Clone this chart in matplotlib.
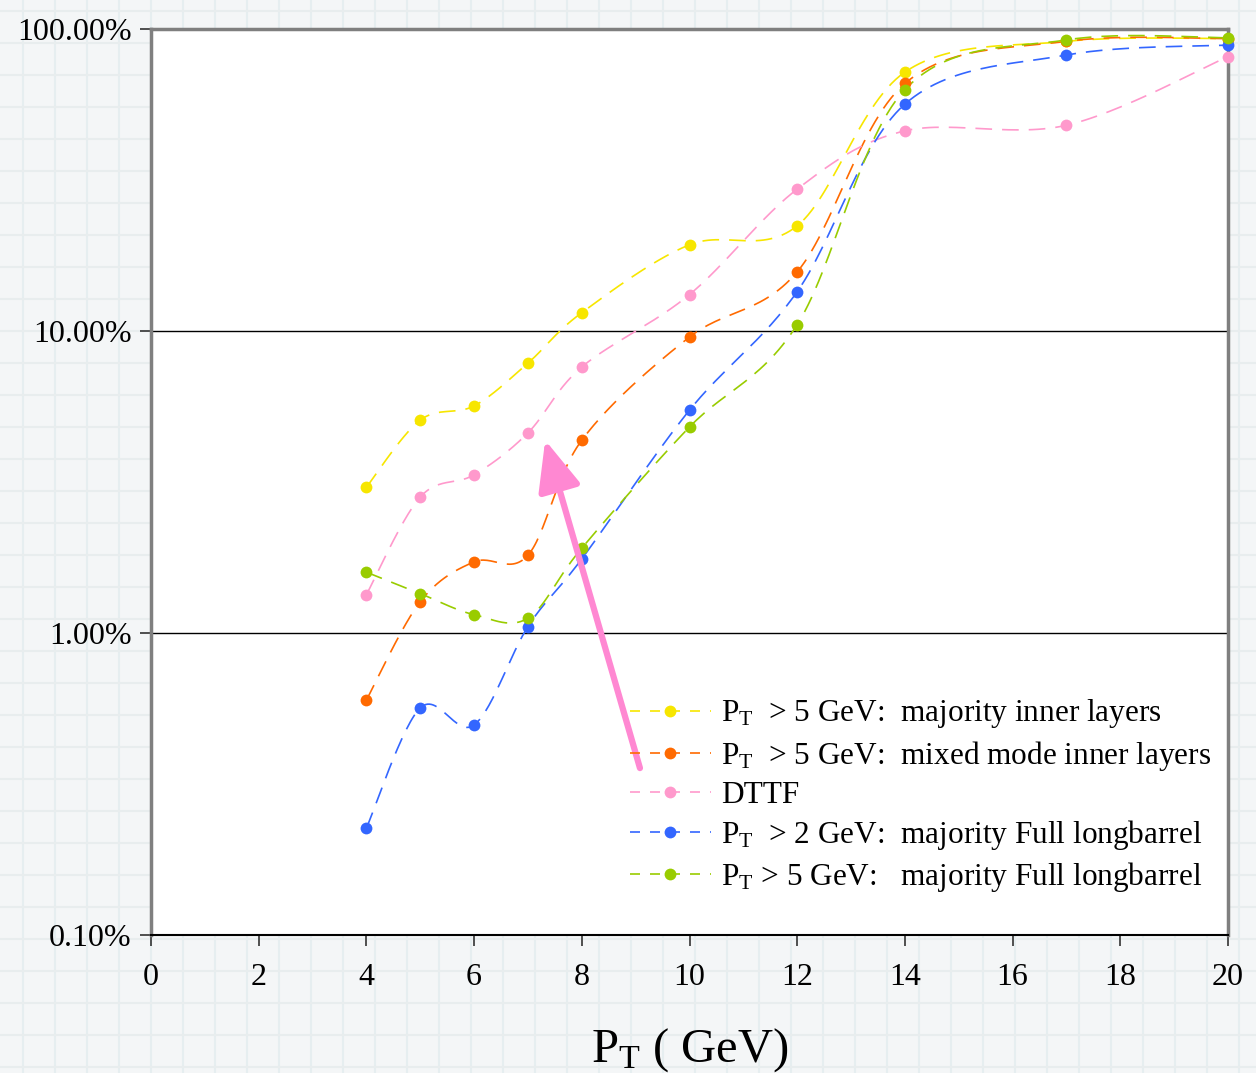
import numpy as np
import matplotlib
matplotlib.use("Agg")
import matplotlib.pyplot as plt
from matplotlib.ticker import FixedLocator, NullLocator

plt.rcParams["font.family"] = ["Liberation Serif", "DejaVu Serif"]
plt.rcParams["mathtext.fontset"] = "custom"
plt.rcParams["mathtext.rm"] = "Liberation Serif"
plt.rcParams["mathtext.it"] = "Liberation Serif:italic"

# ---------------------------------------------------------------------------
# Data (efficiency in %)
# ---------------------------------------------------------------------------
pt = [4, 5, 6, 7, 8, 10, 12, 14, 17, 20]

maj_inner  = [3.04, 5.07, 5.65, 7.83, 11.5, 19.3, 22.3, 72.0, 91.0, 93.0]
mixed      = [0.60, 1.27, 1.72, 1.81, 4.35, 9.55, 15.7, 66.0, 91.0, 93.0]
dttf       = [1.34, 2.82, 3.34, 4.60, 7.60, 13.2, 29.5, 46.0, 48.0, 81.0]
full_pt2   = [0.226, 0.565, 0.496, 1.05, 1.76, 5.47, 13.5, 56.4, 82.0, 88.5]
full_pt5   = [1.59, 1.35, 1.15, 1.12, 1.91, 4.81, 10.5, 63.0, 92.0, 93.5]

labels = [
    r"P$_{\mathrm{T}}$  > 5 GeV:  majority inner layers",
    r"P$_{\mathrm{T}}$  > 5 GeV:  mixed mode inner layers",
    "DTTF",
    r"P$_{\mathrm{T}}$  > 2 GeV:  majority Full longbarrel",
    r"P$_{\mathrm{T}}$ > 5 GeV:   majority Full longbarrel",
]
series = [maj_inner, mixed, dttf, full_pt2, full_pt5]
colors = ["#f7e600", "#ff6a00", "#ff99cc", "#3366ff", "#99cc00"]

ytick_vals = [0.1, 1, 10, 100]
ytick_labels = ["0.10%", "1.00%", "10.00%", "100.00%"]
xtick_vals = list(range(0, 21, 2))


def smooth(xs, ys, n=30):
    """Catmull-Rom spline through the points, in (x, log10 y) space."""
    p = np.column_stack([np.asarray(xs, float), np.log10(ys)])
    out = []
    for i in range(len(p) - 1):
        p0 = p[i - 1] if i > 0 else p[i]
        p3 = p[i + 2] if i + 2 < len(p) else p[i + 1]
        p1, p2 = p[i], p[i + 1]
        m1 = (p2 - p0) / 2.0
        m2 = (p3 - p1) / 2.0
        t = np.linspace(0, 1, n)[:, None]
        h00 = 2 * t**3 - 3 * t**2 + 1
        h10 = t**3 - 2 * t**2 + t
        h01 = -2 * t**3 + 3 * t**2
        h11 = t**3 - t**2
        out.append(h00 * p1 + h10 * m1 + h01 * p2 + h11 * m2)
    c = np.vstack(out)
    return c[:, 0], 10 ** c[:, 1]


W, H = 1256, 1073
fig = plt.figure(figsize=(W / 100, H / 100), dpi=100)

# graph-paper background
bg = fig.add_axes([0, 0, 1, 1], zorder=-10)
bg.set_xlim(0, W)
bg.set_ylim(H, 0)
bg.set_facecolor("#f4f6f7")
for gx in np.arange(23, W, 32):
    bg.axvline(gx, color="#e6eef0", lw=1.5)
for gy in np.arange(11, H, 32):
    bg.axhline(gy, color="#e8edee", lw=1.5)
bg.set_xticks([])
bg.set_yticks([])
for s in bg.spines.values():
    s.set_visible(False)

ax = fig.add_axes([151 / W, 1 - 935 / H, (1228 - 151) / W, (935 - 29) / H])
ax.set_facecolor("white")
ax.set_yscale("log")
ax.set_xlim(0, 20)
ax.set_ylim(0.1, 100)

for y in [1, 10]:
    ax.axhline(y, color="black", lw=1.0, zorder=1)

for vals, col, lab in zip(series, colors, labels):
    sx, sy = smooth(pt, vals)
    ax.plot(sx, sy, color=col, lw=1.2, dashes=(10, 6), zorder=3, clip_on=False)
    ax.plot(pt, vals, "o", color=col, ms=8.5, mec="none", zorder=4, clip_on=False)
    # legend proxy
    ax.plot([], [], color=col, lw=1.2, dashes=(6, 6), marker="o", ms=8.5,
            mec="none", label=lab)

ax.annotate("", xy=(7.32, 4.35), xytext=(9.08, 0.357),
            arrowprops=dict(arrowstyle="-|>,head_length=1.4,head_width=0.6",
                            color="#ff88d2", lw=4.5, mutation_scale=22,
                            shrinkA=0, shrinkB=0), zorder=5)

ax.yaxis.set_major_locator(FixedLocator(ytick_vals))
ax.yaxis.set_minor_locator(NullLocator())
ax.set_yticklabels(ytick_labels)
ax.set_xticks(xtick_vals)
ax.tick_params(axis="both", labelsize=23, direction="out", length=8,
               width=1.2, color="#333333")
ax.tick_params(axis="x", pad=12)
ax.tick_params(axis="y", pad=6)

for side in ["top", "right", "left"]:
    ax.spines[side].set_color("#7f7f7f")
    ax.spines[side].set_linewidth(2.5)
ax.spines["bottom"].set_color("black")
ax.spines["bottom"].set_linewidth(1.5)

ax.set_xlabel(r"P$_{\mathrm{T}}$ ( GeV)", fontsize=35, labelpad=25)

leg = ax.legend(loc="upper left", bbox_to_anchor=(0.433, 0.276), frameon=False,
                fontsize=22.5, handlelength=2.6, handletextpad=0.32,
                labelspacing=0.26, borderaxespad=0)

fig.savefig("out.png", dpi=100)
